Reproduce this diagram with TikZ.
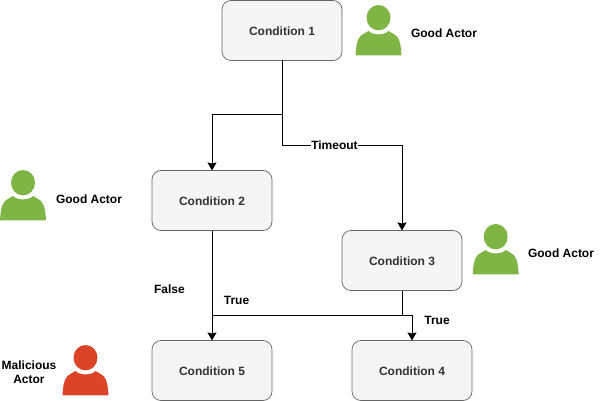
\documentclass[tikz,border=0pt]{standalone}
\usepackage{fontspec}
\setmainfont{Liberation Sans}
\usetikzlibrary{arrows.meta,calc}
\definecolor{goodgreen}{HTML}{7FB545}
\definecolor{badred}{HTML}{DC4428}
\definecolor{boxfill}{HTML}{F5F5F5}
\definecolor{boxline}{HTML}{666666}
\definecolor{boxtext}{HTML}{333333}
\tikzset{
  condbox/.style={draw=boxline,fill=boxfill,rounded corners=9pt,line width=0.7pt,minimum width=120pt,minimum height=60pt,inner sep=0pt,outer sep=0pt,text=boxtext,text height=10.6pt,text depth=1pt,font=\fontsize{12}{14}\selectfont\bfseries},
  lbl/.style={inner sep=0pt,align=center,text=black,font=\fontsize{12}{14.5}\selectfont\bfseries},
  conn/.style={draw=black,line width=1pt},
  arr/.style={conn,-{Stealth[width=9pt,length=8pt,inset=1pt]}},
  pics/actor/.style={code={
    \fill[#1] (0,12.7) ellipse [x radius=12pt,y radius=12.7pt];
    \fill[#1] (-23,50.3) .. controls (-22.5,43) and (-22,35) .. (-18,31)
      .. controls (-15.5,29) and (-12.5,27.5) .. (-10,26)
      .. controls (-6,30.5) and (6,30.5) .. (10,26)
      .. controls (12.5,27.5) and (15.5,29) .. (18,31)
      .. controls (22,35) and (22.5,43) .. (23,50.3) -- cycle;
  }}
}
\begin{document}
\begin{tikzpicture}[x=1pt,y=-1pt]
\useasboundingbox (0,0) rectangle (607,401);
\node[condbox] (c1) at (282,30.5) {Condition 1};
\node[condbox] (c2) at (212,200.5) {Condition 2};
\node[condbox] (c3) at (402,260.5) {Condition 3};
\node[condbox] (c5) at (212,370.5) {Condition 5};
\node[condbox] (c4) at (412,370.5) {Condition 4};
\coordinate (j1) at (282,115);
\coordinate (j2) at (212,115);
\coordinate (j3) at (282,145);
\coordinate (j4) at (402,145);
\coordinate (j5) at (402,315);
\coordinate (j6) at (212,315);
\coordinate (j7) at (412,315);
\draw[arr] (c1.south) -- (j1) -- (j2) -- (c2.north);
\draw[arr] (c1.south) -- (j3) -- (j4) -- (c3.north);
\draw[arr] (c2.south) -- (c5.north);
\draw[conn] (c3.south) -- (j5) -- (j6);
\draw[arr] (j5) -- (j7) -- (c4.north);
\node[lbl,fill=white,inner xsep=0.5pt,inner ysep=1pt] (tlabel) at (334.5,144.8) {Timeout};
\node[lbl] (lfalse) at (169.5,289.5) {False};
\node[lbl] (ltrue1) at (236.5,300) {True};
\node[lbl] (ltrue2) at (437,320) {True};
\pic at (378.5,5) {actor=goodgreen};
\pic at (23,170) {actor=goodgreen};
\pic at (495.7,224) {actor=goodgreen};
\pic at (85.5,345) {actor=badred};
\node[lbl] (g1) at (444,33.5) {Good Actor};
\node[lbl] (g2) at (89,199) {Good Actor};
\node[lbl] (g3) at (561,253) {Good Actor};
\node[lbl] (m1) at (29,372) {Malicious\\Actor};
\end{tikzpicture}
\end{document}
